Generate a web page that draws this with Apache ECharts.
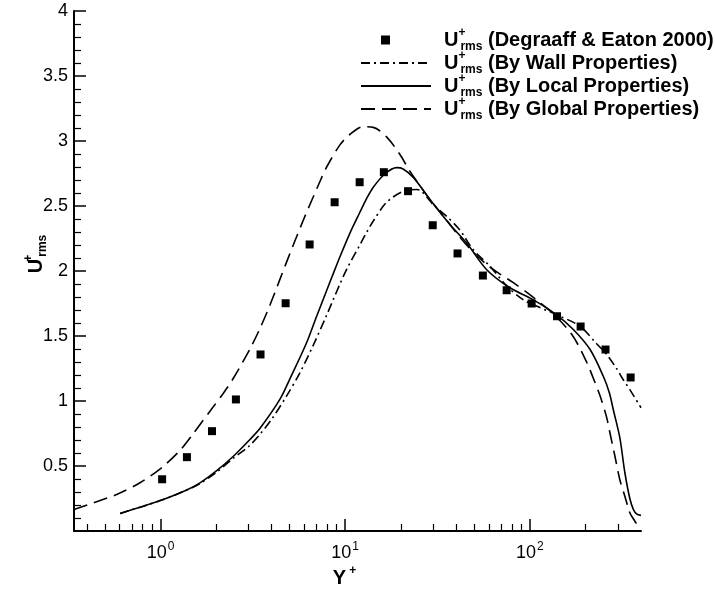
<!DOCTYPE html>
<html><head><meta charset="utf-8">
<script src="https://cdn.jsdelivr.net/npm/echarts@6/dist/echarts.min.js"></script>
<style>html,body{margin:0;padding:0;background:#fff}#c{width:715px;height:598px}</style>
</head><body><div id="c"></div>
<script>
// ---- data ----
const expYplus = [1.02,1.39,1.90,2.56,3.48,4.76,6.42,8.77,11.98,16.2,21.9,29.8,40.6,55.7,74.9,102.3,140.3,188.4,257,351.5];
const expUrms  = [0.398,0.568,0.768,1.012,1.358,1.752,2.204,2.529,2.683,2.760,2.614,2.352,2.135,1.965,1.852,1.75,1.652,1.573,1.396,1.181];

const wallYplus = [0.604,0.807,1.035,1.386,1.636,2.0,2.48,3.0,3.46,4.0,4.82,5.7,6.72,7.94,8.62,9.37,10.2,12.0,13.1,14.2,16.8,20.6,24.4,25.9,30.0,35.5,41.8,49.3,60.8,75.1,91.9,108.6,139,187,230,260,295,320,348,400];
const wallUrms  = [0.135,0.191,0.242,0.315,0.365,0.45,0.56,0.65,0.745,0.86,1.04,1.22,1.43,1.66,1.78,1.9,2.015,2.2,2.3,2.385,2.53,2.612,2.627,2.615,2.51,2.42,2.315,2.165,2.037,1.883,1.78,1.73,1.665,1.575,1.44,1.36,1.25,1.165,1.088,0.948];

const localYplus = [0.604,0.807,1.035,1.386,1.636,2.0,2.48,3.05,3.46,4.43,5.02,6.19,7.0,7.94,8.62,9.37,10.6,12.0,13.1,14.2,16.5,19.0,20.6,23.4,28.8,36.9,45.4,58.4,78,104,139,172,212,250,270,283,307,327,348,364,380,400];
const localUrms  = [0.135,0.191,0.242,0.315,0.37,0.46,0.575,0.704,0.79,1.012,1.17,1.45,1.65,1.85,1.98,2.11,2.29,2.45,2.56,2.645,2.75,2.795,2.785,2.72,2.55,2.358,2.217,2.01,1.871,1.78,1.665,1.55,1.396,1.19,1.06,0.935,0.72,0.45,0.25,0.165,0.13,0.12];

const globalYplus = [0.34,0.433,0.579,0.774,1.0,1.275,1.505,1.93,2.19,2.48,3.05,3.46,3.92,4.82,5.93,7.31,7.94,9.37,10.6,12.5,14.2,16.8,19.8,22.4,28.8,35.5,41.8,49,60.8,81.4,99.6,134,171,203,220,240,260,272,289,307,327,348,365,385,400];
const globalUrms  = [0.165,0.217,0.281,0.371,0.48,0.62,0.75,0.955,1.06,1.175,1.40,1.56,1.74,2.07,2.39,2.69,2.80,2.97,3.05,3.11,3.105,3.03,2.896,2.768,2.55,2.39,2.26,2.15,2.03,1.91,1.82,1.67,1.50,1.30,1.18,1.04,0.88,0.75,0.575,0.396,0.268,0.14,0.09,0.05,0.07];

const xMajorTicks = [1, 10, 100];
const xMinorTicks = [0.4,0.5,0.6,0.7,0.8,0.9,2,3,4,5,6,7,8,9,20,30,40,50,60,70,80,90,200,300];
const xMin = 0.34, xMax = 400;
const yMin = 0, yMax = 4, yStep = 0.5;

const expName = 'exp', wallName = 'wall', localName = 'local', globalName = 'global';
const captions = {
  exp: ' (Degraaff & Eaton 2000)',
  wall: ' (By Wall Properties)',
  local: ' (By Local Properties)',
  global: ' (By Global Properties)'
};

const zip = (a, b) => a.map((v, i) => [v, b[i]]);
const FONT = 'Liberation Sans, Arial, Helvetica, sans-serif';
const rich = {
  u:   {fontSize: 20, fontWeight: 'bold', lineHeight: 22, fontFamily: FONT, color: '#000'},
  sup: {fontSize: 12, fontWeight: 'bold', lineHeight: 8, padding: [0, 0, 14, 0], width: 1, fontFamily: FONT, color: '#000'},
  sub: {fontSize: 12, fontWeight: 'bold', lineHeight: 8, padding: [14, 0, 0, 1], fontFamily: FONT, color: '#000'},
  t:   {fontSize: 20, fontWeight: 'bold', lineHeight: 22, fontFamily: FONT, color: '#000'}
};
const hiddenSymbol = {color: 'rgba(0,0,0,0)', borderWidth: 0, opacity: 0};

const chart = echarts.init(document.getElementById('c'), null, {renderer: 'canvas'});
const axisBlack = {color: '#000', width: 2};
chart.setOption({
  animation: false,
  backgroundColor: '#fff',
  textStyle: {fontFamily: FONT, color: '#000'},
  grid: {left: 74, right: 74, top: 11, bottom: 67, containLabel: false, outerBoundsMode: 'none'},
  legend: {
    orient: 'vertical', left: 360, top: 27, padding: 0, itemWidth: 70, itemHeight: 14, itemGap: -3,
    selectedMode: false,
    data: [
      {name: expName, icon: 'path://M20,0L29,0L29,9L20,9Z M0,4.5L0.01,4.5 M70,4.5L70.01,4.5'},
      {name: wallName, itemStyle: hiddenSymbol},
      {name: localName, itemStyle: hiddenSymbol},
      {name: globalName, itemStyle: hiddenSymbol}
    ],
    formatter: name => '{u|U}{sup|+}{sub|rms}{t|' + captions[name] + '}',
    textStyle: {rich: rich, padding: [0, 0, 0, 8]}
  },
  xAxis: [{
    type: 'log', logBase: 10, min: xMin, max: xMax, position: 'bottom',
    name: '{u|Y}{sp|+}', nameLocation: 'middle', nameGap: 36, nameMoveOverlap: false,
    nameTextStyle: {rich: {
      u: rich.u,
      sp: {fontSize: 12, fontWeight: 'bold', lineHeight: 8, padding: [0, 0, 14, 3], fontFamily: FONT, color: '#000'}
    }, padding: [0, 26, 0, 0]},
    axisLine: {show: true, lineStyle: axisBlack},
    axisTick: {show: true, inside: true, length: 12, customValues: xMajorTicks, lineStyle: {color: '#000', width: 1.5}},
    minorTick: {show: false},
    axisLabel: {
      customValues: xMajorTicks, margin: 12,
      formatter: v => '{b|10}{e|' + Math.round(Math.log10(v)) + '}',
      rich: {
        b: {fontSize: 18, lineHeight: 20, fontFamily: FONT, color: '#000'},
        e: {fontSize: 12, lineHeight: 8, padding: [0, 0, 12, 1], fontFamily: FONT, color: '#000'}
      }
    },
    splitLine: {show: false}
  }, {
    type: 'log', logBase: 10, min: xMin, max: xMax, position: 'bottom',
    axisLine: {show: false},
    axisTick: {show: true, inside: true, length: 7, customValues: xMinorTicks, lineStyle: {color: '#000', width: 1.2}},
    axisLabel: {show: false},
    splitLine: {show: false}
  }],
  yAxis: {
    type: 'value', min: yMin, max: yMax, interval: yStep,
    name: '{u|U}{sup|+}{sub|rms}', nameLocation: 'middle', nameGap: 27, nameRotate: 90, nameMoveOverlap: false,
    nameTextStyle: {rich: rich, padding: [0, 0, 0, 34]},
    axisLine: {show: true, lineStyle: axisBlack},
    axisTick: {show: true, inside: true, length: 12, lineStyle: {color: '#000', width: 1.5}},
    minorTick: {show: true, splitNumber: 5, length: 7, lineStyle: {color: '#000', width: 1.2}},
    axisLabel: {showMinLabel: false, margin: 6, fontSize: 18, fontFamily: FONT, color: '#000',
      formatter: v => String(v)},
    splitLine: {show: false}, minorSplitLine: {show: false}
  },
  series: [
    {name: expName, type: 'scatter', data: zip(expYplus, expUrms), symbol: 'rect', symbolSize: 8,
     itemStyle: {color: '#000', opacity: 1}, z: 5},
    {name: wallName, type: 'line', data: zip(wallYplus, wallUrms), showSymbol: false, symbol: 'none', smooth: 0.3,
     lineStyle: {color: '#000', width: 1.6, type: [9, 4, 2, 4]}, itemStyle: {color: '#000'}},
    {name: localName, type: 'line', data: zip(localYplus, localUrms), showSymbol: false, symbol: 'none', smooth: 0.3,
     lineStyle: {color: '#000', width: 1.6, type: 'solid'}, itemStyle: {color: '#000'}},
    {name: globalName, type: 'line', data: zip(globalYplus, globalUrms), showSymbol: false, symbol: 'none', smooth: 0.3,
     lineStyle: {color: '#000', width: 1.6, type: [14, 7]}, itemStyle: {color: '#000'}}
  ]
});
</script></body></html>
